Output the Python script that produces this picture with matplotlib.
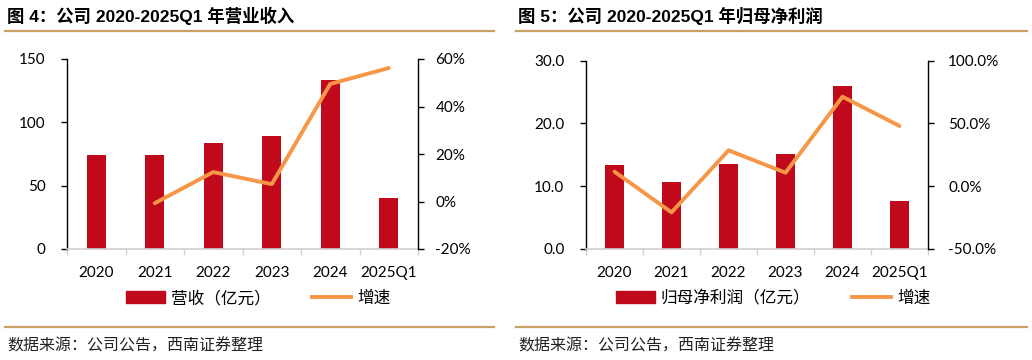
import matplotlib
matplotlib.use('Agg')
import matplotlib.pyplot as plt
from matplotlib.lines import Line2D
from matplotlib.ticker import FuncFormatter

plt.rcParams['font.family'] = ['Lato', 'Noto Sans CJK SC', 'DejaVu Sans']

years = ['2020', '2021', '2022', '2023', '2024', '2025Q1']

# fig 4: revenue
revenue = [74.3, 74.1, 83.5, 89.3, 133.4, 40.2]
rev_growth = [None, -0.7, 12.4, 7.3, 49.5, 56.2]

# fig 5: net profit attributable to parent
profit = [13.4, 10.6, 13.6, 15.1, 25.9, 7.6]
profit_growth = [11.6, -20.8, 28.6, 10.8, 71.3, 48.0]

RED = '#C00A1B'
ORANGE = '#F79646'
GOLD = '#C9A063'
W, H = 1032, 360

fig = plt.figure(figsize=(W / 100, H / 100), dpi=100)


def px(x0, y_top, x1, y_bot):
    return [x0 / W, 1 - y_bot / H, (x1 - x0) / W, (y_bot - y_top) / H]


def panel(rect, bars, growth, ylim, yticks, yfmt, y2lim, y2ticks, y2fmt,
          lpad, rpad, bar_label, leg_xy):
    ax = fig.add_axes(rect)
    n = len(years)
    xs = list(range(n))
    ax.bar(xs, bars, width=0.32, color=RED, zorder=2)
    ax.set_xlim(-0.5, n - 0.5)
    ax.set_ylim(*ylim)
    ax.set_yticks(yticks)
    ax.yaxis.set_major_formatter(FuncFormatter(yfmt))
    ax.set_xticks(xs)
    ax.set_xticklabels(years)
    ax.set_xticks([i - 0.5 for i in range(n + 1)], minor=True)
    ax.tick_params(axis='x', which='major', length=0, pad=12, labelsize=11)
    ax.tick_params(axis='x', which='minor', length=4, color='#D0D0D0', width=1)
    ax.tick_params(axis='y', length=4.5, width=1, pad=lpad, labelsize=11)
    for s in ['top', 'right']:
        ax.spines[s].set_visible(False)
    ax.spines['bottom'].set_color('#D0D0D0')
    ax.spines['bottom'].set_linewidth(1.2)
    ax.spines['left'].set_color('#000000')
    ax.spines['left'].set_linewidth(1)

    ax2 = ax.twinx()
    gx = [x for x, g in zip(xs, growth) if g is not None]
    gy = [g for g in growth if g is not None]
    ax2.plot(gx, gy, color=ORANGE, lw=2.8, solid_capstyle='round', zorder=3)
    ax2.set_ylim(*y2lim)
    ax2.set_yticks(y2ticks)
    ax2.yaxis.set_major_formatter(FuncFormatter(y2fmt))
    ax2.tick_params(axis='y', length=4.5, width=1, pad=rpad, labelsize=11)
    for s in ['top', 'left', 'bottom']:
        ax2.spines[s].set_visible(False)
    ax2.spines['right'].set_color('#000000')
    ax2.spines['right'].set_linewidth(1)

    handles = [plt.Rectangle((0, 0), 1, 1, color=RED),
               Line2D([0], [0], color=ORANGE, lw=2.8)]
    fig.legend(handles, [bar_label, '增速'], loc='center',
               bbox_to_anchor=(leg_xy[0] / W, 1 - leg_xy[1] / H),
               ncol=2, frameon=False, fontsize=12, handlelength=2.35,
               handletextpad=0.35, columnspacing=2.5)
    return ax


panel(px(67, 59, 418, 249), revenue, rev_growth,
      (0, 150), [0, 50, 100, 150], lambda v, p: f'{v:.0f}',
      (-20, 60), [-20, 0, 20, 40, 60], lambda v, p: f'{v:.0f}%',
      11, 8, '营收（亿元）', (258, 298))

panel(px(586, 60.7, 928, 249), profit, profit_growth,
      (0, 30), [0, 10, 20, 30], lambda v, p: f'{v:.1f}',
      (-50, 100), [-50, 0, 50, 100], lambda v, p: f'{v:.1f}%',
      11, 10, '归母净利润（亿元）', (773, 298))

# titles, rules and source notes
titles = ['图 4：公司 2020-2025Q1 年营业收入', '图 5：公司 2020-2025Q1 年归母净利润']
source = '数据来源：公司公告，西南证券整理'
for x0, x1, t in [(5, 494, titles[0]), (516, 1027, titles[1])]:
    fig.text((x0 + 2) / W, 1 - 16 / H, t, fontsize=12.5, fontweight='bold',
             family=['Liberation Sans', 'Noto Sans CJK SC'], va='center')
    for yy in (31, 327):
        fig.add_artist(Line2D([x0 / W, x1 / W], [1 - yy / H, 1 - yy / H],
                              color=GOLD, lw=1.6))
    fig.text((x0 + 2) / W, 1 - 346 / H, source, fontsize=11.5, style='italic',
             family=['Noto Sans CJK SC'], va='center', color='#222222')

fig.savefig('out.png', dpi=100)
